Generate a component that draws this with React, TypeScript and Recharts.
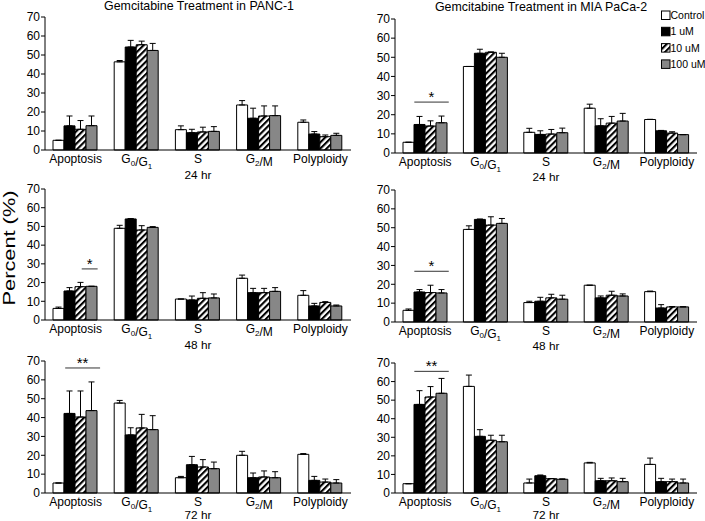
import React from 'react';
import { BarChart, Bar, XAxis, YAxis, ErrorBar, ReferenceLine } from 'recharts';

const CATEGORIES = ['Apoptosis', 'G0/G1', 'S', 'G2/M', 'Polyploidy'];
const SERIES = ['Control', '1 uM', '10 uM', '100 uM'];
const Y_TICKS = [0, 10, 20, 30, 40, 50, 60, 70];
const POS_TICKS = [0, 1, 2, 3, 4, 5];
const TIME_LABELS = ['24 hr', '48 hr', '72 hr'];
const TITLES = ['Gemcitabine Treatment in PANC-1', 'Gemcitabine Treatment in MIA PaCa-2'];

// PANC-1, 24 hr
const PANC_24_CONTROL = [5.1, 46.4, 10.7, 23.7, 14.6];
const PANC_24_1UM = [12.7, 54.2, 9.1, 16.7, 8.4];
const PANC_24_10UM = [10.9, 55.4, 9.5, 17.9, 7.0];
const PANC_24_100UM = [12.8, 52.4, 9.8, 18.1, 7.7];
const PANC_24_CONTROL_ERR = [0, 0.7, 2.0, 2.3, 1.2];
const PANC_24_1UM_ERR = [5.2, 3.5, 1.8, 5.3, 1.3];
const PANC_24_10UM_ERR = [4.6, 1.9, 2.5, 5.3, 0.9];
const PANC_24_100UM_ERR = [5.1, 3.7, 2.5, 5.1, 1.1];

// MIA PaCa-2, 24 hr
const MIA_24_CONTROL = [5.6, 45.2, 10.8, 23.4, 17.5];
const MIA_24_1UM = [14.9, 52.1, 9.7, 14.2, 11.6];
const MIA_24_10UM = [14.1, 52.6, 9.9, 15.6, 10.4];
const MIA_24_100UM = [15.8, 50.0, 10.6, 16.7, 9.6];
const MIA_24_CONTROL_ERR = [0, 0, 2.1, 2.1, 0.1];
const MIA_24_1UM_ERR = [4.2, 2.1, 1.9, 3.7, 0.2];
const MIA_24_10UM_ERR = [2.7, 0.2, 2.4, 3.5, 0.7];
const MIA_24_100UM_ERR = [3.5, 2.1, 2.4, 4.0, 0];

// PANC-1, 48 hr
const PANC_48_CONTROL = [6.2, 49.0, 11.2, 22.3, 13.2];
const PANC_48_1UM = [15.5, 54.0, 10.7, 14.6, 7.5];
const PANC_48_10UM = [17.8, 48.1, 11.6, 14.6, 9.4];
const PANC_48_100UM = [18.0, 49.5, 11.8, 15.3, 7.5];
const PANC_48_CONTROL_ERR = [0.7, 1.6, 0, 1.7, 2.5];
const PANC_48_1UM_ERR = [1.8, 0.2, 2.1, 2.3, 1.4];
const PANC_48_10UM_ERR = [2.3, 2.3, 3.0, 2.3, 0.4];
const PANC_48_100UM_ERR = [0, 0.4, 2.1, 2.0, 0.5];

// MIA PaCa-2, 48 hr
const MIA_48_CONTROL = [6.2, 49.1, 10.3, 19.5, 16.1];
const MIA_48_1UM = [15.9, 54.4, 11.0, 12.8, 7.4];
const MIA_48_10UM = [15.6, 51.4, 12.8, 14.2, 8.0];
const MIA_48_100UM = [15.4, 52.3, 12.1, 13.8, 8.0];
const MIA_48_CONTROL_ERR = [0.7, 1.9, 0.7, 0, 0.3];
const MIA_48_1UM_ERR = [1.3, 0.2, 2.1, 1.0, 1.8];
const MIA_48_10UM_ERR = [3.9, 4.4, 1.9, 2.1, 0.2];
const MIA_48_100UM_ERR = [1.8, 2.6, 2.1, 1.1, 0.1];

// PANC-1, 72 hr
const PANC_72_CONTROL = [5.3, 47.7, 8.1, 20.0, 20.5];
const PANC_72_1UM = [42.2, 30.8, 15.0, 8.1, 6.7];
const PANC_72_10UM = [40.3, 34.5, 13.8, 8.5, 5.8];
const PANC_72_100UM = [43.7, 33.6, 12.9, 8.1, 5.3];
const PANC_72_CONTROL_ERR = [0, 1.4, 0.7, 2.1, 0.4];
const PANC_72_1UM_ERR = [11.9, 3.8, 4.4, 2.5, 2.1];
const PANC_72_10UM_ERR = [13.8, 7.2, 3.9, 3.2, 1.6];
const PANC_72_100UM_ERR = [15.2, 7.4, 3.5, 3.2, 1.8];

// MIA PaCa-2, 72 hr
const MIA_72_CONTROL = [5.0, 57.4, 5.4, 16.2, 15.4];
const MIA_72_1UM = [47.7, 30.5, 9.3, 6.6, 6.1];
const MIA_72_10UM = [51.7, 28.4, 7.7, 6.6, 6.1];
const MIA_72_100UM = [53.7, 27.6, 7.4, 6.1, 5.4];
const MIA_72_CONTROL_ERR = [0, 6.1, 2.1, 0.3, 3.4];
const MIA_72_1UM_ERR = [7.4, 3.6, 0.4, 1.3, 1.8];
const MIA_72_10UM_ERR = [5.6, 2.7, 0.1, 1.5, 1.4];
const MIA_72_100UM_ERR = [8.0, 3.5, 0.2, 1.8, 2.1];

// significance annotations: [x start, x end] in category-band units, y level, mark
const SIG_MIA_24 = { x1: 0.32, x2: 0.89, y: 26.6, mark: '*' };
const SIG_PANC_48 = { x1: 0.6, x2: 0.86, y: 27.3, mark: '*' };
const SIG_MIA_48 = { x1: 0.32, x2: 0.89, y: 26.9, mark: '*' };
const SIG_PANC_72 = { x1: 0.33, x2: 0.9, y: 66.3, mark: '**' };
const SIG_MIA_72 = { x1: 0.32, x2: 0.89, y: 65.5, mark: '**' };

const FONT = '"Liberation Sans", Arial, Helvetica, sans-serif';
const GRAY = '#878787';

function buildRows(means: number[][], errs: number[][]) {
  return CATEGORIES.map((cat, i) => {
    const row: any = { cat, bandPos: i + 0.5 };
    SERIES.forEach((_s, k) => {
      row['v' + k] = means[k][i];
      row['e' + k] = [0, errs[k][i]];
    });
    return row;
  });
}

function renderLabelParts(v: string) {
  const parts: React.ReactNode[] = [];
  const re = /G(\d)/g;
  let last = 0;
  let m: RegExpExecArray | null;
  let idx = 0;
  while ((m = re.exec(v)) !== null) {
    if (m.index > last) parts.push(<tspan key={idx++}>{v.slice(last, m.index)}</tspan>);
    parts.push(<tspan key={idx++}>G</tspan>);
    parts.push(<tspan key={idx++} fontSize={8} dy={3}>{m[1]}</tspan>);
    parts.push(<tspan key={idx++} dy={-3}>{''}</tspan>);
    last = m.index + m[0].length;
  }
  if (last < v.length) parts.push(<tspan key={idx++}>{v.slice(last)}</tspan>);
  return parts;
}

const CatTick = (props: any) => {
  const { x, y, payload } = props;
  return (
    <text x={x} y={y + 12.5} textAnchor="middle" fontSize={12} fill="#000" fontFamily={FONT}>
      {renderLabelParts(String(payload.value))}
    </text>
  );
};

type Box = { left: number; top: number; bottom: number; right: number };

function Panel({ box, rows, timeLabel, sig, pid, labelOffset }: { box: Box; rows: any[]; timeLabel: string; sig?: any; pid: string; labelOffset: number }) {
  const { left, top, bottom, right } = box;
  const width = right - left + 45;
  const height = bottom - top + 15 + 32;
  const fills = ['#ffffff', '#000000', `url(#${pid})`, GRAY];
  return (
    <div style={{ position: 'absolute', left: left - 40, top: top - 15 }}>
      <BarChart
        width={width}
        height={height}
        data={rows}
        margin={{ top: 15, right: 5, bottom: 0, left: 0 }}
        barCategoryGap={8}
        barGap={0}
      >
        <defs>
          <pattern id={pid} patternUnits="userSpaceOnUse" width={4.4} height={4.4} patternTransform="rotate(45)">
            <rect width={4.4} height={4.4} fill="#fff" />
            <rect width={2.1} height={4.4} fill="#000" />
          </pattern>
        </defs>
        <XAxis
          dataKey="cat"
          xAxisId={0}
          tickLine={false}
          tickSize={0}
          tickMargin={0}
          tick={<CatTick />}
          height={32}
          interval={0}
          axisLine={{ stroke: '#000', strokeWidth: 1 }}
          label={{ value: timeLabel, position: 'insideBottom', offset: labelOffset, fill: '#000', fontSize: 11.8, fontFamily: FONT }}
        />
        <XAxis
          xAxisId="pos"
          dataKey="bandPos"
          type="number"
          scale="linear"
          domain={[0, 5]}
          ticks={POS_TICKS}
          allowDecimals
          allowDataOverflow
          hide
        />
        <YAxis
          width={40}
          domain={[0, 70]}
          ticks={Y_TICKS}
          interval={0}
          tickSize={4}
          tickMargin={1}
          axisLine={{ stroke: '#000', strokeWidth: 1 }}
          tickLine={{ stroke: '#000', strokeWidth: 1 }}
          tick={{ fill: '#000', fontSize: 12, fontFamily: FONT }}
        />
        {SERIES.map((s, k) => (
          <Bar key={s} name={s} dataKey={'v' + k} fill={fills[k]} stroke="#000" strokeWidth={1} isAnimationActive={false}>
            <ErrorBar dataKey={'e' + k} direction="y" width={3} stroke="#000" strokeWidth={1} />
          </Bar>
        ))}
        {sig && (
          <ReferenceLine
            xAxisId="pos"
            segment={[{ x: sig.x1, y: sig.y }, { x: sig.x2, y: sig.y }]}
            stroke="#333"
            strokeWidth={1}
            label={{ value: sig.mark, position: 'top', offset: 0, fontSize: 15, fill: '#000', fontFamily: FONT }}
          />
        )}
      </BarChart>
    </div>
  );
}

const rowsPanc24 = buildRows(
  [PANC_24_CONTROL, PANC_24_1UM, PANC_24_10UM, PANC_24_100UM],
  [PANC_24_CONTROL_ERR, PANC_24_1UM_ERR, PANC_24_10UM_ERR, PANC_24_100UM_ERR]
);
const rowsMia24 = buildRows(
  [MIA_24_CONTROL, MIA_24_1UM, MIA_24_10UM, MIA_24_100UM],
  [MIA_24_CONTROL_ERR, MIA_24_1UM_ERR, MIA_24_10UM_ERR, MIA_24_100UM_ERR]
);
const rowsPanc48 = buildRows(
  [PANC_48_CONTROL, PANC_48_1UM, PANC_48_10UM, PANC_48_100UM],
  [PANC_48_CONTROL_ERR, PANC_48_1UM_ERR, PANC_48_10UM_ERR, PANC_48_100UM_ERR]
);
const rowsMia48 = buildRows(
  [MIA_48_CONTROL, MIA_48_1UM, MIA_48_10UM, MIA_48_100UM],
  [MIA_48_CONTROL_ERR, MIA_48_1UM_ERR, MIA_48_10UM_ERR, MIA_48_100UM_ERR]
);
const rowsPanc72 = buildRows(
  [PANC_72_CONTROL, PANC_72_1UM, PANC_72_10UM, PANC_72_100UM],
  [PANC_72_CONTROL_ERR, PANC_72_1UM_ERR, PANC_72_10UM_ERR, PANC_72_100UM_ERR]
);
const rowsMia72 = buildRows(
  [MIA_72_CONTROL, MIA_72_1UM, MIA_72_10UM, MIA_72_100UM],
  [MIA_72_CONTROL_ERR, MIA_72_1UM_ERR, MIA_72_10UM_ERR, MIA_72_100UM_ERR]
);

const legendFills = ['#ffffff', '#000000', 'url(#hatch-legend)', GRAY];

export default function App() {
  return (
    <div style={{ position: 'absolute', left: 0, top: 0, width: 705, height: 521, background: '#fff', fontFamily: FONT, overflow: 'hidden' }}>
      <Panel pid="h1" box={{ left: 45, top: 17, bottom: 150, right: 351 }} rows={rowsPanc24} timeLabel={TIME_LABELS[0]} labelOffset={3} />
      <Panel pid="h2" box={{ left: 395, top: 19, bottom: 153, right: 697 }} rows={rowsMia24} timeLabel={TIME_LABELS[0]} sig={SIG_MIA_24} labelOffset={4} />
      <Panel pid="h3" box={{ left: 45, top: 189, bottom: 320, right: 351 }} rows={rowsPanc48} timeLabel={TIME_LABELS[1]} sig={SIG_PANC_48} labelOffset={3} />
      <Panel pid="h4" box={{ left: 395, top: 190, bottom: 322, right: 697 }} rows={rowsMia48} timeLabel={TIME_LABELS[1]} sig={SIG_MIA_48} labelOffset={4} />
      <Panel pid="h5" box={{ left: 45, top: 361, bottom: 493, right: 351 }} rows={rowsPanc72} timeLabel={TIME_LABELS[2]} sig={SIG_PANC_72} labelOffset={6.5} />
      <Panel pid="h6" box={{ left: 395, top: 363, bottom: 493, right: 697 }} rows={rowsMia72} timeLabel={TIME_LABELS[2]} sig={SIG_MIA_72} labelOffset={6.5} />
      <svg width={705} height={521} style={{ position: 'absolute', left: 0, top: 0, pointerEvents: 'none' }}>
        <defs>
          <pattern id="hatch-legend" patternUnits="userSpaceOnUse" width={4.4} height={4.4} patternTransform="rotate(45)">
            <rect width={4.4} height={4.4} fill="#fff" />
            <rect width={2.1} height={4.4} fill="#000" />
          </pattern>
        </defs>
        <text x={199} y={10} textAnchor="middle" fontSize={12.4} fill="#000" fontFamily={FONT}>{TITLES[0]}</text>
        <text x={541} y={11} textAnchor="middle" fontSize={12.4} fill="#000" fontFamily={FONT}>{TITLES[1]}</text>
        <text transform="rotate(-90)" x={-248} y={15} textAnchor="middle" fontSize={16} fill="#000" fontFamily={FONT} textLength={115} lengthAdjust="spacingAndGlyphs">Percent (%)</text>
        {SERIES.map((s, k) => (
          <g key={s}>
            <rect x={661.5} y={11 + k * 16.3} width={8.5} height={8.5} fill={legendFills[k]} stroke="#000" strokeWidth={1} />
            <text x={670.5} y={19 + k * 16.3} fontSize={10.5} fill="#000" fontFamily={FONT}>{s}</text>
          </g>
        ))}
      </svg>
    </div>
  );
}
